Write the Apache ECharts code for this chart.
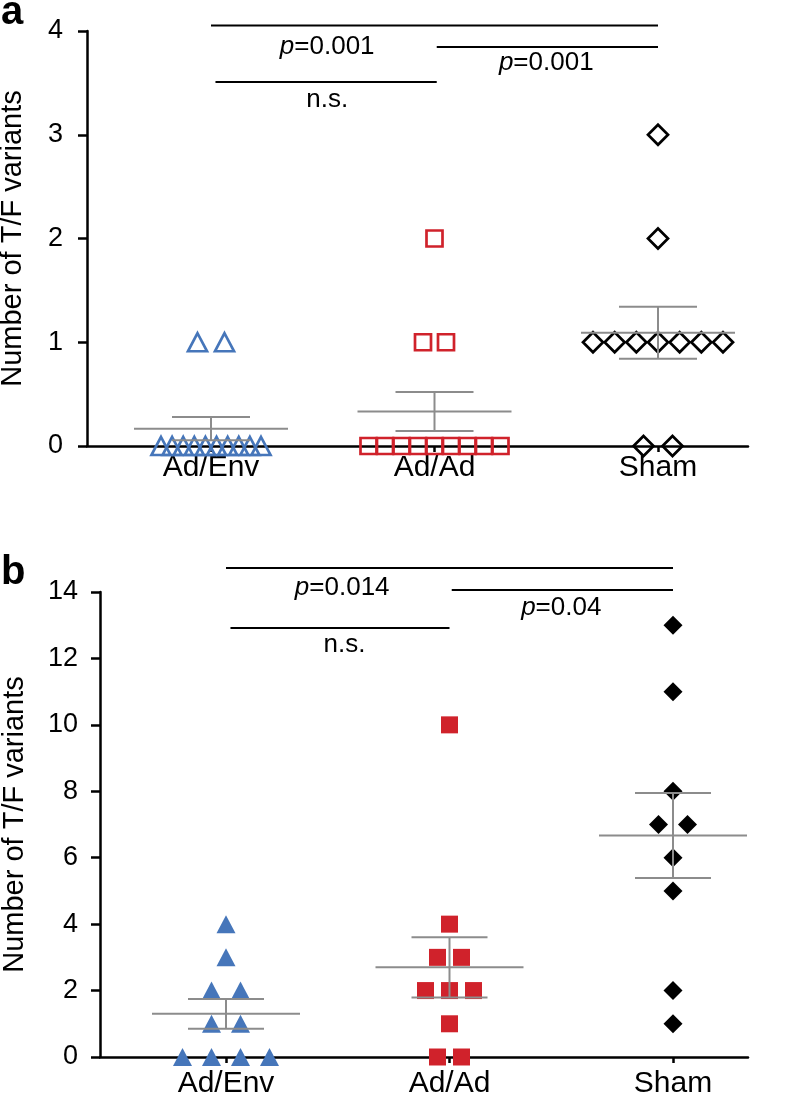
<!DOCTYPE html>
<html>
<head>
<meta charset="utf-8">
<script src="https://cdn.jsdelivr.net/npm/echarts@6/dist/echarts.min.js"></script>
<style>
html,body{margin:0;padding:0;background:#fff;}
#chart{width:788px;height:1106px;}
</style>
</head>
<body>
<div id="chart"></div>
<script>
// ---------------- data ----------------
const categories = ['Ad/Env', 'Ad/Ad', 'Sham'];
const yTicksA = [0, 1, 2, 3, 4];
const yTicksB = [0, 2, 4, 6, 8, 10, 12, 14];
const yTitle = 'Number of T/F variants';

// panel a (open symbols)
const aAdEnv = [0, 0, 0, 0, 0, 0, 0, 0, 0, 0, 1, 1];
const aAdAd  = [0, 0, 0, 0, 0, 0, 0, 0, 0, 1, 1, 2];
const aSham  = [0, 0, 1, 1, 1, 1, 1, 1, 1, 2, 3];
// panel b (filled symbols)
const bAdEnv = [0, 0, 0, 0, 1, 1, 2, 2, 3, 4];
const bAdAd  = [0, 0, 1, 2, 2, 2, 3, 3, 4, 10];
const bSham  = [1, 2, 5, 6, 7, 7, 8, 11, 13];

// comparisons: [fromGroup, toGroup, pValue or null for n.s.]
const compA = [[0, 2, '0.001'], [1, 2, '0.001'], [0, 1, null]];
const compB = [[0, 2, '0.014'], [1, 2, '0.04'], [0, 1, null]];

// ---------------- layout / style ----------------
const FONT = "'Liberation Sans', Arial, Helvetica, sans-serif";
const BLUE = '#4676ba', RED = '#d0222b', BLACK = '#000000', GREY = '#8c8c8c';
const PX_PER_CAT = 223.5;
const layout = {
  a: { left: 87, top: 31, width: 661, height: 415, firstCat: 211, nameGap: 60, labelMargin: 7, tickMargin: 24,
       sig: [ {line: 25.5, label: 47, x0: 0.0, x1: 2.0, lx: 0.52},
              {line: 47, label: 63, x0: 1.01, x1: 2.0, lx: 1.5},
              {line: 82, label: 100, x0: 0.02, x1: 1.01, lx: 0.52} ] },
  b: { left: 100, top: 592, width: 648, height: 465, firstCat: 226, nameGap: 71, labelMargin: 12, tickMargin: 22,
       sig: [ {line: 568, label: 588, x0: 0.0, x1: 2.0, lx: 0.52},
              {line: 590, label: 608, x0: 1.01, x1: 2.0, lx: 1.5},
              {line: 628, label: 645, x0: 0.02, x1: 1.0, lx: 0.53} ] }
};
// swarm spacing (pixels): [step between neighbours, max total spread]
const swarmA = [[27, 100], [23, 132], [29, 130]];
const swarmB = [[29, 999], [24, 999], [29, 999]];

function swarm(values, gi, cfg) {
  const counts = {};
  values.forEach(v => counts[v] = (counts[v] || 0) + 1);
  const seen = {};
  return values.map(v => {
    const n = counts[v];
    const i = seen[v] = (seen[v] === undefined ? 0 : seen[v] + 1);
    const step = n > 1 ? Math.min(cfg[0], cfg[1] / (n - 1)) : 0;
    const dx = (i - (n - 1) / 2) * step;
    return { value: [gi, v], symbolOffset: [dx, 0] };
  });
}
function stats(values, gi) {
  const n = values.length;
  const m = values.reduce((s, v) => s + v, 0) / n;
  const sd = Math.sqrt(values.reduce((s, v) => s + (v - m) * (v - m), 0) / (n - 1));
  const se = sd / Math.sqrt(n);
  return [gi, m, m - se, m + se];
}

const axisLineStyle = { color: BLACK, width: 2.5 };

function xAxisFor(L, gridIndex) {
  const min = -(L.firstCat - L.left) / PX_PER_CAT;
  const max = min + L.width / PX_PER_CAT;
  return {
    type: 'value', gridIndex, min, max,
    splitLine: { show: false },
    axisLine: { show: true, onZero: false, lineStyle: axisLineStyle },
    axisTick: { show: true, customValues: [0, 1, 2], length: 6, lineStyle: axisLineStyle },
    axisLabel: { customValues: [0, 1, 2], formatter: v => categories[Math.round(v)],
                 fontSize: 30, color: BLACK, fontFamily: FONT, margin: L.labelMargin }
  };
}
function yAxisFor(L, gridIndex, ticks) {
  return {
    type: 'value', gridIndex, min: ticks[0], max: ticks[ticks.length - 1],
    interval: ticks[1] - ticks[0],
    splitLine: { show: false },
    axisLine: { show: true, onZero: false, lineStyle: axisLineStyle },
    axisTick: { show: true, length: 9, lineStyle: axisLineStyle },
    axisLabel: { fontSize: 27, color: BLACK, fontFamily: FONT, margin: L.tickMargin },
    name: yTitle, nameLocation: 'middle', nameGap: L.nameGap,
    nameTextStyle: { fontSize: 29, color: BLACK, fontFamily: FONT }
  };
}

function errorSeries(groups, axisIdx, meanHalf, capHalf) {
  return {
    type: 'custom', xAxisIndex: axisIdx, yAxisIndex: axisIdx, z: 5, silent: true,
    data: groups.map((g, i) => stats(g, i)),
    renderItem: (params, api) => {
      const x = api.value(0);
      const c = api.coord([x, api.value(1)]);
      const lo = api.coord([x, api.value(2)]);
      const hi = api.coord([x, api.value(3)]);
      const st = { stroke: GREY, lineWidth: 2 };
      return { type: 'group', children: [
        { type: 'line', shape: { x1: c[0] - meanHalf, y1: c[1], x2: c[0] + meanHalf, y2: c[1] }, style: st },
        { type: 'line', shape: { x1: hi[0] - capHalf, y1: hi[1], x2: hi[0] + capHalf, y2: hi[1] }, style: st },
        { type: 'line', shape: { x1: lo[0] - capHalf, y1: lo[1], x2: lo[0] + capHalf, y2: lo[1] }, style: st },
        { type: 'line', shape: { x1: c[0], y1: hi[1], x2: c[0], y2: lo[1] }, style: st }
      ]};
    }
  };
}

function sigSeries(comps, L, axisIdx) {
  return {
    type: 'custom', xAxisIndex: axisIdx, yAxisIndex: axisIdx, z: 6, silent: true, clip: false,
    data: comps.map((c, i) => [c[0], 0, i]),
    renderItem: (params, api) => {
      const k = params.dataIndex;
      const c = comps[k];
      const s = L.sig[k];
      const x0 = api.coord([s.x0, 0])[0], x1 = api.coord([s.x1, 0])[0];
      const lx = api.coord([s.lx, 0])[0];
      const txt = c[2] === null ? 'n.s.' : '{i|p}=' + c[2];
      return { type: 'group', children: [
        { type: 'line', shape: { x1: x0, y1: s.line, x2: x1, y2: s.line }, style: { stroke: BLACK, lineWidth: 2 } },
        { type: 'text', x: lx, y: s.label, style: {
            text: txt, fill: BLACK, font: '26px ' + FONT, align: 'center', verticalAlign: 'middle',
            rich: { i: { fontStyle: 'italic', fontSize: 26, fontFamily: FONT, fill: BLACK } } } }
      ]};
    }
  };
}

function scatter(values, gi, axisIdx, cfg, symbol, size, color, filled) {
  return {
    type: 'scatter', xAxisIndex: axisIdx, yAxisIndex: axisIdx, z: 3, silent: true,
    symbol, symbolSize: size,
    itemStyle: filled ? { color: color, opacity: 1 }
                      : { color: 'rgba(0,0,0,0)', borderColor: color, borderWidth: 2.7, opacity: 1 },
    data: swarm(values, gi, cfg)
  };
}

const groupsA = [aAdEnv, aAdAd, aSham];
const groupsB = [bAdEnv, bAdAd, bSham];

const option = {
  backgroundColor: '#ffffff',
  animation: false,
  textStyle: { fontFamily: FONT },
  grid: [
    { left: layout.a.left, top: layout.a.top, width: layout.a.width, height: layout.a.height,
      containLabel: false, outerBoundsMode: 'none' },
    { left: layout.b.left, top: layout.b.top, width: layout.b.width, height: layout.b.height,
      containLabel: false, outerBoundsMode: 'none' }
  ],
  xAxis: [xAxisFor(layout.a, 0), xAxisFor(layout.b, 1)],
  yAxis: [yAxisFor(layout.a, 0, yTicksA), yAxisFor(layout.b, 1, yTicksB)],
  graphic: [
    { type: 'text', left: 1, top: -7, style: { text: 'a', font: 'bold 40px ' + FONT, fill: BLACK } },
    { type: 'text', left: 1, top: 553, style: { text: 'b', font: 'bold 40px ' + FONT, fill: BLACK } }
  ],
  series: [
    scatter(aAdEnv, 0, 0, swarmA[0], 'triangle', [19, 18], BLUE, false),
    scatter(aAdAd, 1, 0, swarmA[1], 'rect', 16, RED, false),
    scatter(aSham, 2, 0, swarmA[2], 'diamond', [20, 20], BLACK, false),
    errorSeries(groupsA, 0, 77, 39),
    sigSeries(compA, layout.a, 0),
    scatter(bAdEnv, 0, 1, swarmB[0], 'triangle', [19, 18], BLUE, true),
    scatter(bAdAd, 1, 1, swarmB[1], 'rect', 17, RED, true),
    scatter(bSham, 2, 1, swarmB[2], 'diamond', [19, 19], BLACK, true),
    errorSeries(groupsB, 1, 74, 38),
    sigSeries(compB, layout.b, 1)
  ]
};

const chart = echarts.init(document.getElementById('chart'), null, { renderer: 'canvas' });
chart.setOption(option);
</script>
</body>
</html>
